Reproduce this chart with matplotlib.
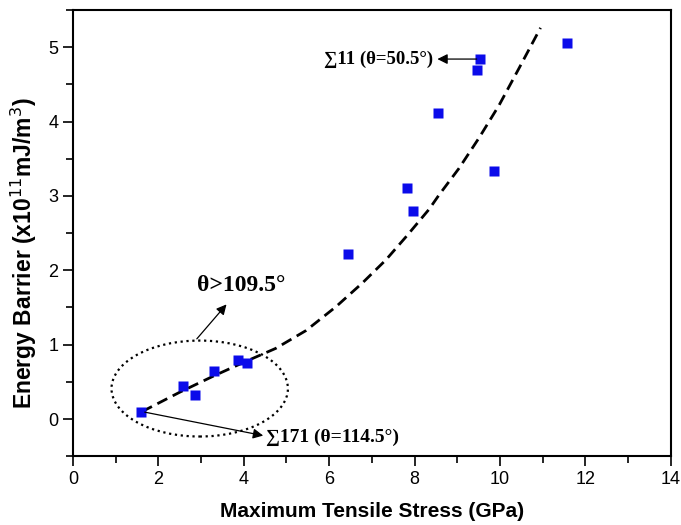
import numpy as np
import matplotlib
matplotlib.use('Agg')
from matplotlib import pyplot as plt
from matplotlib.patches import Ellipse
from matplotlib.ticker import MultipleLocator

# measured points (GPa, x10^11 mJ/m^3)
stress = [1.60, 2.57, 2.86, 3.31, 3.86, 4.07, 6.44, 7.83, 7.97, 8.54, 9.47, 9.54, 9.85, 11.57]
barrier = [0.10, 0.45, 0.32, 0.65, 0.79, 0.75, 2.22, 3.11, 2.80, 4.12, 4.69, 4.84, 3.34, 5.05]

# fitted trend
fit_x = [1.62, 2.50, 3.30, 4.07, 4.75, 5.46, 6.16, 6.78, 7.33, 7.80, 8.34, 8.57, 9.04, 9.51, 9.98, 10.45, 10.95]
fit_y = [0.10, 0.36, 0.58, 0.78, 0.95, 1.19, 1.51, 1.83, 2.14, 2.45, 2.82, 3.01, 3.37, 3.78, 4.22, 4.72, 5.26]

sans = ['Liberation Sans', 'DejaVu Sans']
serif = ['Liberation Serif', 'DejaVu Serif']

fig = plt.figure(figsize=(6.81, 5.25), dpi=100)
ax = fig.add_axes([0.107, 0.131, 0.878, 0.85])

ax.plot(fit_x, fit_y, color='black', lw=2.0, dashes=(4, 2.2))
ax.plot(stress, barrier, 's', color='#0b0bea', ms=7.5, mec='none')

#dotted ring round the low-stress group
ax.add_patch(Ellipse((2.97, 0.41), 4.13, 1.29, fill=False, ls=':', lw=1.6, color='black'))

arrow = dict(arrowstyle='-|>', color='black', lw=0.9, mutation_scale=15)
ax.annotate('', xy=(3.64, 1.57), xytext=(2.86, 1.05), arrowprops=arrow)
ax.text(2.9, 1.79, 'θ>109.5°', family=serif, weight='bold', fontsize=17, va='center', ha='left')

ax.annotate('', xy=(4.52, -0.23), xytext=(1.62, 0.10), arrowprops=arrow)
ax.text(4.52, -0.24, '∑171 (θ=114.5°)', family=serif, weight='bold', fontsize=14, va='center', ha='left')

ax.annotate('', xy=(8.47, 4.84), xytext=(9.52, 4.84), arrowprops=arrow)
ax.text(8.43, 4.84, '∑11 (θ=50.5°)', family=serif, weight='bold', fontsize=13.5, va='center', ha='right')

ax.set_xlim(0, 14)
ax.set_ylim(-0.5, 5.5)
ax.xaxis.set_major_locator(MultipleLocator(2))
ax.xaxis.set_minor_locator(MultipleLocator(1))
ax.yaxis.set_major_locator(MultipleLocator(1))
ax.yaxis.set_minor_locator(MultipleLocator(0.5))
ax.tick_params(which='both', direction='out', width=1.2)
ax.tick_params(which='major', length=7, labelsize=13)
ax.tick_params(which='minor', length=5)
for lab in ax.get_xticklabels() + ax.get_yticklabels():
    lab.set_family(sans)
for s in ax.spines.values():
    s.set_linewidth(1.5)

ax.set_xlabel('Maximum Tensile Stress (GPa)', family=sans, weight='bold', fontsize=15, labelpad=10)
ax.set_ylabel('Energy Barrier (x10$^{11}$mJ/m$^{3}$)', family=sans, weight='bold', fontsize=16.5)
ax.yaxis.label.set_va('center')
ax.yaxis.set_label_coords(-0.082, 0.455)

plt.savefig('out.png', dpi=100)
